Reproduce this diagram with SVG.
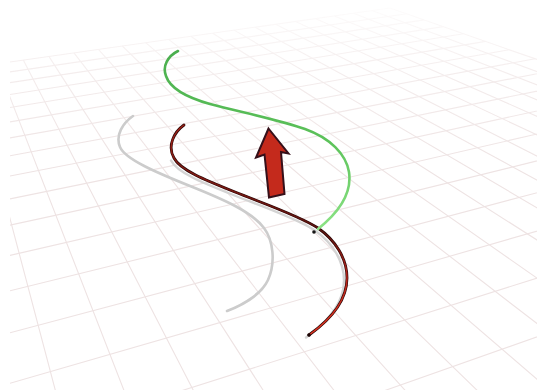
<svg xmlns="http://www.w3.org/2000/svg" width="537" height="390" viewBox="0 0 537 390">
<defs>
<style>
.grid{fill:none;stroke:#eee3e3;stroke-width:1.1}
.wire{fill:none;stroke-linecap:round;stroke-linejoin:round}
</style>
<linearGradient id="fadeG" gradientUnits="userSpaceOnUse" x1="0" y1="0" x2="0" y2="170">
<stop offset="0" stop-color="#000"/>
<stop offset="0.1" stop-color="#333"/>
<stop offset="0.45" stop-color="#aaa"/>
<stop offset="1" stop-color="#fff"/>
</linearGradient>
<mask id="fade" maskUnits="userSpaceOnUse" x="0" y="0" width="537" height="390">
<rect x="0" y="0" width="537" height="390" fill="url(#fadeG)"/>
</mask>
<clipPath id="clipL"><rect x="10" y="0" width="527" height="390"/></clipPath>
<linearGradient id="greenG" gradientUnits="userSpaceOnUse" x1="0" y1="50" x2="0" y2="232">
<stop offset="0" stop-color="#4aae4e"/>
<stop offset="0.5" stop-color="#5cc25a"/>
<stop offset="1" stop-color="#8de486"/>
</linearGradient>
<linearGradient id="redG" gradientUnits="userSpaceOnUse" x1="0" y1="125" x2="0" y2="336">
<stop offset="0" stop-color="#a02016"/>
<stop offset="0.5" stop-color="#5a120e"/>
<stop offset="0.72" stop-color="#b8241a"/>
<stop offset="1" stop-color="#e03420"/>
</linearGradient>
</defs>
<rect x="0" y="0" width="537" height="390" fill="#ffffff"/>
<g id="grid" clip-path="url(#clipL)" mask="url(#fade)">
<path class="grid" d="M390,8 L10,62 M406.5,13.8 L10,71.9 M424.1,19.9 L10,82.6 M443,26.6 L10,94.5 M463.4,33.7 L10,107.5 M485.4,41.4 L10,121.9 M509.2,49.7 L10,137.9 M535,58.8 L10,155.8 M563.2,68.6 L10,176 M594.1,79.4 L10,198.9 M628,91.3 L10,225.1 M665.5,104.4 L10,255.4 M707.1,119 L10,290.8 M753.5,135.2 L10,332.7 M805.7,153.5 L10,383.2 M864.8,174.2 L10,445.1 M932.2,197.7 L10,522.6"/>
<path class="grid" d="M390,8 L1510,400 M371.9,10.6 L1426.5,400 M353.4,13.2 L1343.6,400 M334.5,15.9 L1261.7,400 M315.3,18.6 L1180.8,400 M295.6,21.4 L1100.4,400 M275.6,24.3 L1021.2,400 M255.1,27.2 L942.6,400 M234.1,30.1 L864.6,400 M212.8,33.2 L787.8,400 M190.9,36.3 L711.5,400 M168.6,39.4 L636.1,400 M145.7,42.7 L561.2,400 M122.3,46 L487.1,400 M98.4,49.4 L413.8,400 M74,52.9 L341.4,400 M48.9,56.4 L269.4,400 M23.3,60.1 L198.3,400 M-3,63.8 L127.7,400 M-29.9,67.6 L57.9,400"/>
</g>
<g id="grey-curve">
<path class="wire" stroke="#cccccc" stroke-width="2.6" d="M133,116 C123,123 115,135 120,147 C125,159 155,172 190,186 C225,200 252,212 264,228 C273,240 276,262 268,280 C262,293 245,304 227,311"/>
</g>
<g id="red-curve">
<path class="wire" stroke="#d4d4d4" stroke-width="2.4" transform="translate(-3,2.5)" d="M174,158 C180,170 205,180 235,192 C265,204 300,216 318,228 C335,240 347,258 347,278 C347,300 330,320 309,335"/>
<path class="wire" stroke="#2a0808" stroke-width="2.8" d="M184,125 C174,132 167,146 174,158 C180,170 205,180 235,192 C265,204 300,216 318,228 C335,240 347,258 347,278 C347,300 330,320 309,335"/>
<path class="wire" stroke="url(#redG)" stroke-width="1.5" d="M184,125 C174,132 167,146 174,158 C180,170 205,180 235,192 C265,204 300,216 318,228 C335,240 347,258 347,278 C347,300 330,320 309,335"/>
<circle cx="309" cy="335" r="1.8" fill="#1a0505"/>
</g>
<g id="green-curve">
<path class="wire" stroke="url(#greenG)" stroke-width="2.6" d="M178,51 C168,56 162,66 166,76 C170,88 185,97 210,104 C240,112 280,120 305,129 C330,138 346,154 349,172 C352,192 342,210 318,229"/>
<circle cx="314" cy="232" r="1.8" fill="#151515"/>
</g>
<g id="arrow">
<polygon points="268.5,128.5 288.5,153.5 281,152 284.5,194 269,197.5 264.5,154.5 256,157.5" fill="#c42a1c" stroke="#35101a" stroke-width="2" stroke-linejoin="miter"/>
</g>
</svg>
